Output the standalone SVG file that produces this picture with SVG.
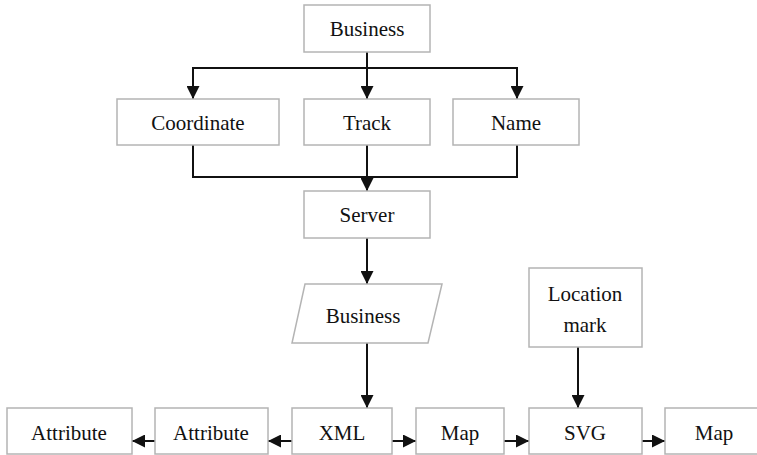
<svg xmlns="http://www.w3.org/2000/svg" width="757" height="455" viewBox="0 0 757 455">
  <style>
    .box { fill: #ffffff; stroke: #b4b4b4; stroke-width: 1.5; }
    .lbl { font-family: "Liberation Serif", "DejaVu Serif", "Times New Roman", serif; font-size: 21px; fill: #111111; text-anchor: middle; }
    .wire { fill: none; stroke: #111111; stroke-width: 2; }
    .arr { fill: none; stroke: #111111; stroke-width: 2; marker-end: url(#head); }
  </style>
  <defs>
    <marker id="head" viewBox="0 0 12 12" refX="12" refY="6" markerWidth="13" markerHeight="13" markerUnits="userSpaceOnUse" orient="auto">
      <path d="M0,0 L12,6 L0,12 Z" fill="#111111"/>
    </marker>
  </defs>
  <rect width="757" height="455" fill="#ffffff"/>

  <g id="connectors">
    <!-- fan-out from Business -->
    <line class="wire" x1="367" y1="52" x2="367" y2="68"/>
    <line class="wire" x1="193" y1="68" x2="517" y2="68"/>
    <line class="arr" x1="193" y1="67" x2="193" y2="99"/>
    <line class="arr" x1="367" y1="67" x2="367" y2="99"/>
    <line class="arr" x1="517" y1="67" x2="517" y2="99"/>
    <!-- merge into Server -->
    <polyline class="wire" points="193,145 193,177 517,177 517,145"/>
    <line class="arr" x1="367" y1="145" x2="367" y2="191"/>
    <!-- Server to Business data -->
    <line class="arr" x1="367" y1="238" x2="367" y2="284"/>
    <!-- Business data to XML -->
    <line class="arr" x1="367" y1="343" x2="367" y2="408"/>
    <!-- Location mark to SVG -->
    <line class="arr" x1="578" y1="347" x2="578" y2="408"/>
    <!-- bottom row -->
    <line class="arr" x1="292" y1="441" x2="268" y2="441"/>
    <line class="arr" x1="155" y1="441" x2="132" y2="441"/>
    <line class="arr" x1="392" y1="441" x2="416" y2="441"/>
    <line class="arr" x1="504" y1="441" x2="529" y2="441"/>
    <line class="arr" x1="642" y1="441" x2="665" y2="441"/>
  </g>

  <g id="business-top">
    <rect class="box" x="304" y="5" width="126" height="47"/>
    <text class="lbl" x="367" y="36">Business</text>
  </g>
  <g id="coordinate">
    <rect class="box" x="117" y="99" width="162" height="46"/>
    <text class="lbl" x="198" y="130">Coordinate</text>
  </g>
  <g id="track">
    <rect class="box" x="304" y="99" width="126" height="46"/>
    <text class="lbl" x="367" y="130">Track</text>
  </g>
  <g id="name">
    <rect class="box" x="453" y="99" width="126" height="46"/>
    <text class="lbl" x="516" y="130">Name</text>
  </g>
  <g id="server">
    <rect class="box" x="304" y="191" width="126" height="47"/>
    <text class="lbl" x="367" y="222">Server</text>
  </g>
  <g id="business-data">
    <polygon class="box" points="305,284 442,284 428,343 292,343"/>
    <text class="lbl" x="363" y="323">Business</text>
  </g>
  <g id="location-mark">
    <rect class="box" x="529" y="268" width="113" height="79"/>
    <text class="lbl" x="585" y="301">Location</text>
    <text class="lbl" x="585" y="332">mark</text>
  </g>
  <g id="attribute-1">
    <rect class="box" x="7" y="408" width="125" height="46"/>
    <text class="lbl" x="69" y="440">Attribute</text>
  </g>
  <g id="attribute-2">
    <rect class="box" x="155" y="408" width="113" height="46"/>
    <text class="lbl" x="211" y="440">Attribute</text>
  </g>
  <g id="xml">
    <rect class="box" x="292" y="408" width="100" height="46"/>
    <text class="lbl" x="342" y="440">XML</text>
  </g>
  <g id="map-1">
    <rect class="box" x="416" y="408" width="88" height="46"/>
    <text class="lbl" x="460" y="440">Map</text>
  </g>
  <g id="svg">
    <rect class="box" x="529" y="408" width="113" height="46"/>
    <text class="lbl" x="585" y="440">SVG</text>
  </g>
  <g id="map-2">
    <rect class="box" x="665" y="408" width="120" height="46"/>
    <text class="lbl" x="714" y="440">Map</text>
  </g>
</svg>
